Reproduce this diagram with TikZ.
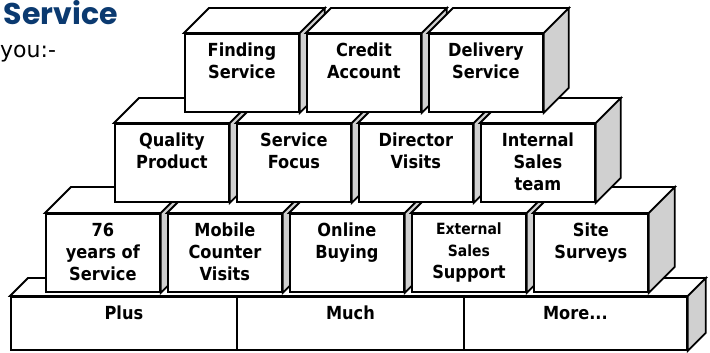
\documentclass[tikz,border=0pt]{standalone}
\usepackage{fontspec}
\setmainfont{DejaVu Sans}
\newfontfamily\boxfont{DejaVu Sans Condensed}
\newfontfamily\titlefont{Poppins}
\definecolor{navy}{HTML}{0B3A70}
\definecolor{sidegray}{HTML}{D0D0D0}
\tikzset{
  face/.style={draw=black, line width=1.8pt},
  front/.style={face, fill=white, rectangle, inner sep=0pt, minimum width=114pt, minimum height=78pt, anchor=north west},
  slabpart/.style={face, fill=white, rectangle, inner sep=0pt, minimum height=53pt, anchor=north west},
  topface/.style={face, fill=white},
  sideface/.style={face, fill=sidegray},
  boxlabel/.style={font=\boxfont\bfseries\fontsize{18}{22}\selectfont, align=center, inner sep=0pt, anchor=north},
}
\newcommand{\cubebox}[5]{%
  \node[front] (#1) at (#2,#3) {};
  \draw[topface] (#1.north west) -- ++(#4,-#4) -- ([shift={(#4,-#4)}]#1.north east) -- (#1.north east) -- cycle;
  \draw[sideface] (#1.north east) -- ++(#4,-#4) -- ([shift={(#4,-#4)}]#1.south east) -- (#1.south east) -- cycle;
  \node[boxlabel] (#1t) at ([yshift=-10pt]#1.north) {#5};
}
\begin{document}
\begin{tikzpicture}[x=1pt,y=-1pt]
\useasboundingbox (0,0) rectangle (710,353);
% title text
\node[font=\titlefont\bfseries\fontsize{30}{30}\selectfont, text=navy, anchor=base east, inner sep=0pt] (title) at (118,25) {Service};
\node[font=\fontsize{22}{22}\selectfont, anchor=base west, inner sep=0pt] (you) at (0,58) {you:-};
% base slab
\node[slabpart, minimum width=226pt] (plus) at (10,296) {};
\node[slabpart, minimum width=227pt] (much) at (236,296) {};
\node[slabpart, minimum width=223pt] (more) at (463,296) {};
\draw[topface] (plus.north west) -- ++(18,-18) -- ([shift={(18,-18)}]more.north east) -- (more.north east) -- cycle;
\draw[sideface] (more.north east) -- ++(18,-18) -- ([shift={(18,-18)}]more.south east) -- (more.south east) -- cycle;
\node[boxlabel] (plust) at ([yshift=-10pt]plus.north) {Plus};
\node[boxlabel] (mucht) at ([yshift=-10pt]much.north) {Much};
\node[boxlabel] (moret) at ([yshift=-10pt]more.north) {More...};
% bottom row
\cubebox{b1}{45}{213}{26}{76\\years of\\Service}
\cubebox{b2}{167}{213}{26}{Mobile\\Counter\\Visits}
\cubebox{b3}{289}{213}{26}{Online\\Buying}
\cubebox{b4}{411}{213}{26}{\fontsize{15.5}{20}\selectfont External\\\fontsize{15.5}{20}\selectfont Sales\\\fontsize{18}{21}\selectfont Support}
\cubebox{b5}{533}{213}{26}{Site\\Surveys}
% middle row
\cubebox{m1}{114}{123}{25}{Quality\\Product}
\cubebox{m2}{236}{123}{25}{Service\\Focus}
\cubebox{m3}{358}{123}{25}{Director\\Visits}
\cubebox{m4}{480}{123}{25}{Internal\\Sales\\team}
% top row
\cubebox{t1}{184}{33}{25}{Finding\\Service}
\cubebox{t2}{306}{33}{25}{Credit\\Account}
\cubebox{t3}{428}{33}{25}{Delivery\\Service}
\end{tikzpicture}
\end{document}
